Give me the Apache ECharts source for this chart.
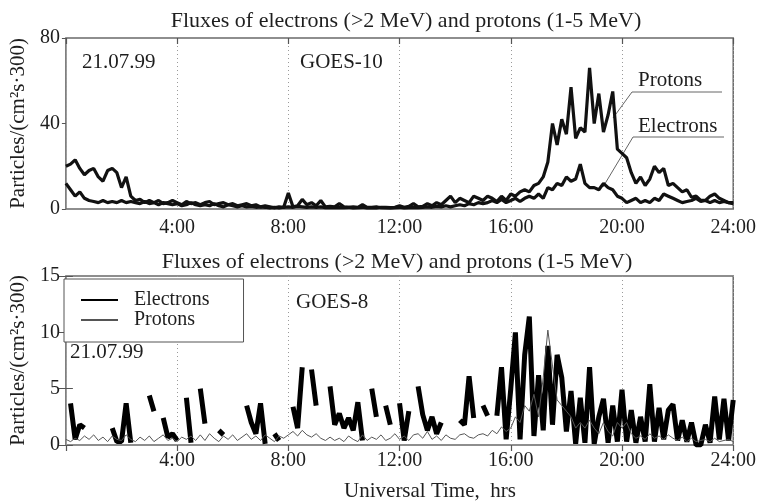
<!DOCTYPE html>
<html>
<head>
<meta charset="utf-8">
<script src="https://cdn.jsdelivr.net/npm/echarts@6/dist/echarts.min.js"></script>
<style>
html,body{margin:0;padding:0;background:#fff;}
#chart{width:759px;height:504px;}
</style>
</head>
<body>
<div id="chart"></div>
<script>
// Time axis: 10-minute samples, 0:00 .. 24:00 (hours)
const STEP_HOURS = 1 / 6;
const xTickLabels = ['', '4:00', '8:00', '12:00', '16:00', '20:00', '24:00'];
const titleText = 'Fluxes of electrons (>2 MeV) and protons (1-5 MeV)';
const yAxisName = 'Particles/(cm\u00B2s\u00B7300)';
const xAxisName = 'Universal Time,  hrs';

// GOES-10 (upper panel), particles/(cm2 s 300)
const goes10Protons = [
  20, 21, 23, 19, 16, 18,
  19, 15, 13, 18, 19, 17,
  10, 15, 6, 4, 4.5, 3,
  4, 3, 4, 2.5, 3, 4,
  3, 2, 3.5, 2.5, 3, 2,
  3, 3.5, 2, 2.5, 3, 2,
  2.5, 1.5, 2, 2.5, 1.5, 2,
  1, 1.5, 1, 0.5, 1, 0.8,
  7.5, 1, 1.5, 4.5, 2, 3,
  1.5, 4, 1, 1.2, 1, 2.5,
  1, 0.8, 1, 0.8, 2, 0.8,
  0.8, 1, 0.6, 0.8, 0.6, 0.8,
  1.5, 0.8, 1.2, 2.5, 1, 1.2,
  2.5, 1.5, 3, 2, 4, 6,
  3, 5, 4, 3, 6, 5,
  4, 6, 5, 3.5, 6, 4,
  7, 6, 8, 9, 8, 11,
  12, 15, 22, 40, 30, 42,
  35, 57, 33, 38, 36, 66,
  40, 54, 36, 44, 55, 28,
  26, 24, 17, 12, 15, 11,
  14, 20, 17, 19, 11, 12,
  10, 8, 9, 5.5, 6, 4,
  4, 6, 7, 5, 4, 3,
  2.5
];
const goes10Electrons = [
  12, 9, 6, 8, 5, 4,
  3.5, 3, 4, 3, 3.5, 3,
  4, 3, 3.5, 3, 2.5, 3.5,
  2.5, 3, 2, 3, 2.5, 2,
  2.5, 1.5, 2, 3, 2, 1.5,
  2, 1.5, 2.5, 1.5, 1, 2,
  1.5, 1, 1.5, 1, 1.2, 0.8,
  1, 0.8, 0.5, 0.8, 0.5, 0.8,
  1, 0.8, 1.2, 1, 0.8, 1,
  0.8, 1, 0.6, 0.8, 0.6, 0.8,
  0.6, 0.8, 0.5, 0.6, 0.8, 0.5,
  0.6, 0.5, 0.8, 0.6, 0.5, 0.6,
  0.8, 0.5, 0.6, 0.8, 0.6, 0.8,
  1, 0.8, 1.2, 1, 1.5, 1,
  1.5, 2, 1.5, 2.5, 2, 3,
  2.5, 3, 4, 3, 4.5, 3,
  4, 5, 3.5, 5, 6, 5,
  7, 5, 10, 9, 12, 11,
  15, 13, 14, 21, 12, 10,
  10, 9, 12, 10, 9, 6,
  5, 3, 4, 5, 3, 4,
  3, 5, 4, 7, 6, 5,
  4, 3, 3.5, 4, 5, 3.5,
  4, 3, 4, 3, 3.5, 3,
  3
];

// GOES-8 (lower panel); null = data gap
const goes8Electrons = [
  null, 3.7, 0.5, 1.8, 1.5, null,
  null, null, null, null, 1.5, 0.3,
  0.3, 3.7, 0.2, null, null, null,
  4.4, 3.0, null, 2.4, 0.7, 1.0,
  0.4, null, 4.2, 0.2, null, 5.0,
  1.9, null, null, 1.3, 0.9, null,
  null, null, null, 3.5, 2.0, 1.0,
  3.7, 0.1, null, 1.0, 0.4, null,
  null, 3.4, 1.5, 6.9, null, 6.7,
  3.5, null, null, 5.2, 1.8, 2.8,
  1.5, 2.4, 1.3, 3.8, 0.4, null,
  5.0, 2.5, null, 3.5, 1.8, null,
  3.7, 0.4, 3.0, null, 5.2, 2.7,
  1.3, 2.5, 1.0, 2.0, null, null,
  null, 2.2, 1.8, 6.1, 2.4, null,
  3.5, 2.6, null, 2.6, 6.9, 0.5,
  5.0, 10.0, 0.5, 8.0, 11.4, 0.8,
  6.2, 1.3, 8.8, 1.8, 8.0, 6.0,
  1.2, 4.8, 0.1, 4.2, 0.2, 6.9,
  0.1, 2.5, 4.1, 0.2, 3.5, 0.3,
  4.9, 0.3, 3.1, 0.2, 2.5, 0.3,
  5.4, 0.3, 3.3, 0.5, 3.1, 3.6,
  0.4, 2.2, 0.3, 2.0, 0.0, 0.0,
  1.8, 0.2, 4.3, 0.5, 4.1, 0.4,
  4.0
];
const goes8Protons = [
  0.5, 0.3, 0.6, 0.4, 0.8, 0.5,
  0.9, 0.4, 0.7, 0.3, 0.8, 0.5,
  0.4, 0.9, 0.5, 0.3, 0.7, 0.4,
  0.8, 0.3, 0.6, 0.9, 0.4, 0.6,
  0.3, 0.7, 0.5, 0.8, 0.4, 0.9,
  0.4, 1.0, 0.6, 0.3, 0.8, 0.5,
  0.9, 0.4, 0.7, 1.0, 0.5, 0.8,
  0.4, 0.9, 0.6, 0.3, 0.8, 0.6,
  0.9, 1.2, 0.8, 1.3, 0.9, 0.7,
  1.0, 0.6, 0.4, 0.7, 0.4, 0.6,
  0.3, 0.8, 0.5, 0.3, 0.9, 0.4,
  0.7, 0.5, 0.9, 0.4, 0.6, 1.0,
  0.5, 0.8, 0.4, 0.9, 1.0, 0.6,
  1.2, 0.5, 0.8, 0.4, 0.9, 0.6,
  0.5, 0.9, 1.0, 0.7, 0.6, 0.9,
  1.0, 0.8, 1.3, 1.0, 1.6, 1.2,
  1.5, 2.5, 2.0, 3.5, 3.0, 4.5,
  2.5, 6.0, 10.2, 7.0, 4.0, 3.5,
  3.0, 2.5, 1.5, 2.0, 1.5, 2.2,
  1.5, 1.0, 2.0, 1.2, 0.8, 2.0,
  1.5, 2.0, 1.0, 0.6, 0.8, 0.5,
  1.0, 0.6, 0.8, 0.5, 0.9, 0.6,
  0.4, 0.7, 0.3, 0.6, 0.3, 0.4,
  0.5, 0.3, 0.6, 0.3, 0.4, 0.5,
  0.3
];

const FONT = '"Liberation Serif", "Times New Roman", serif';
const TXT = '#1e1e1e';
const FRAME = '#6a6a6a';

const toPairs = arr => arr.map((v, i) => [i * STEP_HOURS, v]);
const xFmt = v => xTickLabels[Math.round(v / 4)] || '';

function bottomX(grid, margin) {
  return {
    gridIndex: grid, type: 'value', min: 0, max: 24, interval: 4,
    axisLine: { show: false }, axisTick: { show: false },
    axisLabel: { formatter: xFmt, margin: margin, fontSize: 20, fontFamily: FONT, color: TXT, showMinLabel: false },
    splitLine: { show: true, lineStyle: { type: [1, 3], color: '#9a9a9a', width: 1 } }
  };
}
function topX(grid) {
  return {
    gridIndex: grid, type: 'value', position: 'top', min: 0, max: 24, interval: 4,
    axisLine: { show: false },
    axisTick: { show: true, inside: true, length: 6, lineStyle: { color: '#555', width: 1.2 } },
    axisLabel: { show: false }, splitLine: { show: false }
  };
}

const chart = echarts.init(document.getElementById('chart'), null, { renderer: 'canvas' });
chart.setOption({
  animation: false,
  backgroundColor: '#fff',
  grid: [
    { left: 64, top: 38, width: 670, height: 171, show: true, borderColor: FRAME, borderWidth: 1.5, backgroundColor: 'transparent' },
    { left: 64, top: 276, width: 670, height: 169, show: true, borderColor: FRAME, borderWidth: 1.5, backgroundColor: 'transparent' }
  ],
  xAxis: [bottomX(0, 9), topX(0), bottomX(1, 6), topX(1)],
  yAxis: [
    {
      gridIndex: 0, type: 'value', min: 0, max: 80, interval: 40,
      axisLine: { show: false },
      axisTick: { show: true, length: 4, lineStyle: { color: '#555' } },
      axisLabel: { margin: 6, fontSize: 20, fontFamily: FONT, color: TXT },
      splitLine: { show: false },
      name: yAxisName, nameLocation: 'middle', nameRotate: 90, nameGap: 33,
      nameTextStyle: { fontSize: 21, fontFamily: FONT, color: TXT }
    },
    {
      gridIndex: 1, type: 'value', min: 0, max: 15, interval: 5,
      axisLine: { show: false },
      axisTick: { show: true, inside: true, length: 7, lineStyle: { color: '#555' } },
      axisLabel: { margin: 6, fontSize: 20, fontFamily: FONT, color: TXT },
      splitLine: { show: false },
      name: yAxisName, nameLocation: 'middle', nameRotate: 90, nameGap: 33,
      nameTextStyle: { fontSize: 21, fontFamily: FONT, color: TXT }
    },
    {
      gridIndex: 1, type: 'value', position: 'right', min: 0, max: 15, interval: 5,
      axisLine: { show: false },
      axisTick: { show: true, inside: true, length: 7, lineStyle: { color: '#555' } },
      axisLabel: { show: false }, splitLine: { show: false }
    }
  ],
  legend: {
    data: ['Electrons', 'Protons'],
    orient: 'vertical', left: 64, top: 279,
    padding: [11, 34, 12, 16], itemGap: 0, itemWidth: 37, itemHeight: 12,
    borderColor: '#555', borderWidth: 1, backgroundColor: '#fff',
    selectedMode: false,
    itemStyle: { opacity: 0 },
    textStyle: { fontSize: 20, fontFamily: FONT, color: TXT, padding: [0, 0, 0, 11] }
  },
  series: [
    { name: 'GOES-10 Electrons', type: 'line', xAxisIndex: 0, yAxisIndex: 0, data: toPairs(goes10Electrons),
      symbol: 'none', lineStyle: { color: '#111', width: 3.2 }, itemStyle: { color: '#111' } },
    { name: 'GOES-10 Protons', type: 'line', xAxisIndex: 0, yAxisIndex: 0, data: toPairs(goes10Protons),
      symbol: 'none', lineStyle: { color: '#111', width: 3.2 }, itemStyle: { color: '#111' } },
    { name: 'Electrons', type: 'line', xAxisIndex: 2, yAxisIndex: 1, data: toPairs(goes8Electrons),
      symbol: 'none', connectNulls: false, lineStyle: { color: '#000', width: 5 }, itemStyle: { color: '#000' } },
    { name: 'Protons', type: 'line', xAxisIndex: 2, yAxisIndex: 1, data: toPairs(goes8Protons),
      symbol: 'none', lineStyle: { color: '#555', width: 1 }, itemStyle: { color: '#555' }, z: 3 }
  ],
  graphic: [
    { type: 'text', x: 406, y: 21, style: { text: titleText, font: '22px ' + FONT, fill: TXT, align: 'center', verticalAlign: 'middle' } },
    { type: 'text', x: 397, y: 262, style: { text: titleText, font: '22px ' + FONT, fill: TXT, align: 'center', verticalAlign: 'middle' } },
    { type: 'text', x: 82, y: 62, style: { text: '21.07.99', font: '21px ' + FONT, fill: TXT, verticalAlign: 'middle' } },
    { type: 'text', x: 300, y: 62, style: { text: 'GOES-10', font: '21px ' + FONT, fill: TXT, verticalAlign: 'middle' } },
    { type: 'text', x: 70, y: 352, style: { text: '21.07.99', font: '21px ' + FONT, fill: TXT, verticalAlign: 'middle' } },
    { type: 'text', x: 296, y: 302, style: { text: 'GOES-8', font: '21px ' + FONT, fill: TXT, verticalAlign: 'middle' } },
    { type: 'text', x: 638, y: 80, style: { text: 'Protons', font: '21px ' + FONT, fill: TXT, verticalAlign: 'middle' } },
    { type: 'text', x: 638, y: 126, style: { text: 'Electrons', font: '21px ' + FONT, fill: TXT, verticalAlign: 'middle' } },
    { type: 'line', shape: { x1: 632, y1: 92, x2: 722, y2: 92 }, style: { stroke: '#666', lineWidth: 1 } },
    { type: 'line', shape: { x1: 632, y1: 92, x2: 613, y2: 118 }, style: { stroke: '#666', lineWidth: 1 } },
    { type: 'line', shape: { x1: 633, y1: 137, x2: 724, y2: 137 }, style: { stroke: '#666', lineWidth: 1 } },
    { type: 'line', shape: { x1: 633, y1: 137, x2: 603, y2: 187 }, style: { stroke: '#666', lineWidth: 1 } },
    { type: 'text', x: 430, y: 491, style: { text: xAxisName, font: '21px ' + FONT, fill: TXT, align: 'center', verticalAlign: 'middle' } }
  ]
});
</script>
</body>
</html>
